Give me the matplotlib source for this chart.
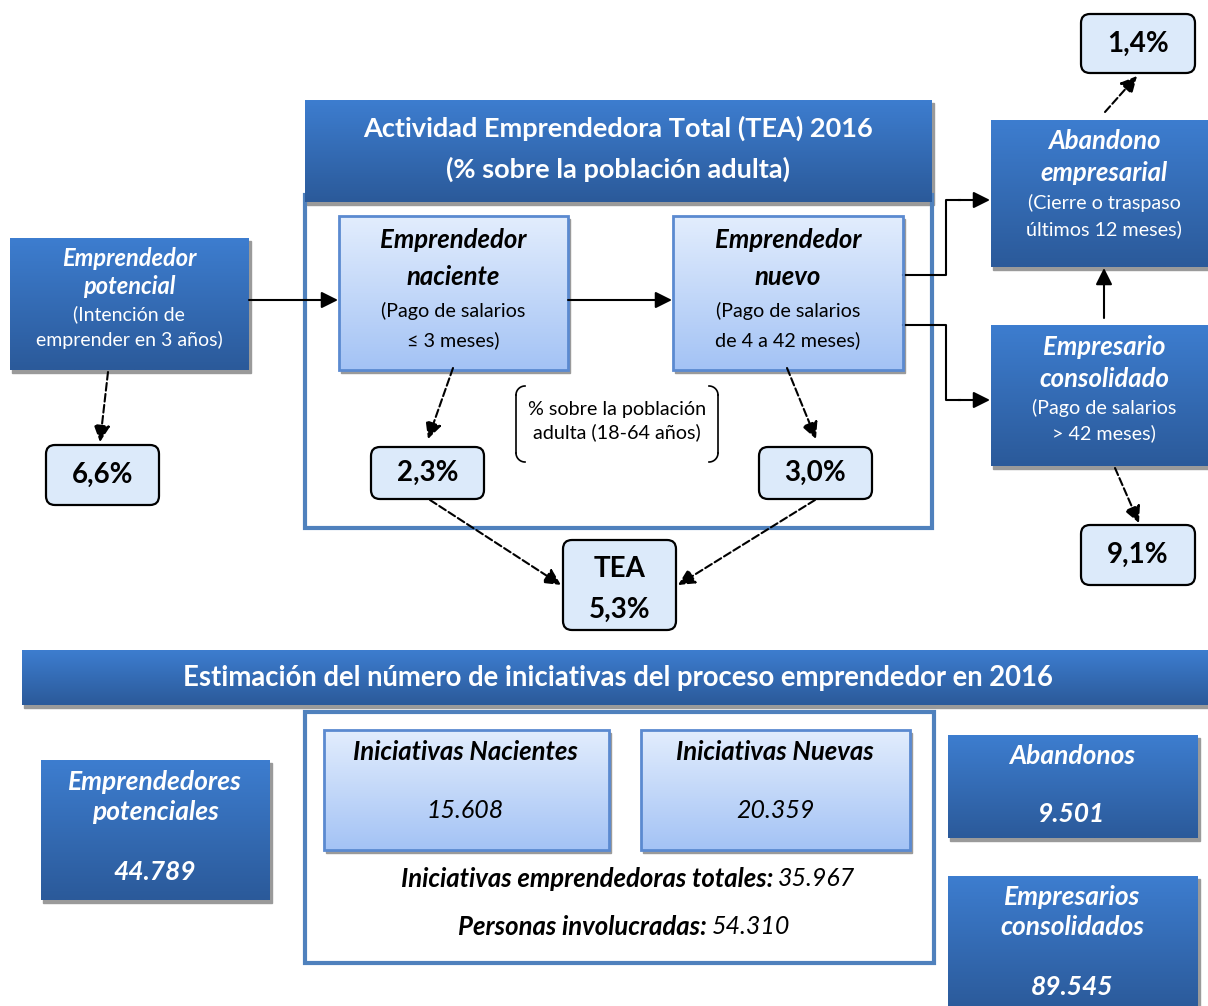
import numpy as np
import matplotlib.pyplot as plt
from matplotlib.patches import Rectangle, FancyBboxPatch
from matplotlib.colors import to_rgb

plt.rcParams['font.family'] = ['Lato', 'DejaVu Sans']

# datos del esquema
pct_labels = ["6,6%", "2,3%", "3,0%", "1,4%", "9,1%"]
tea_value = "5,3%"
header_lines = ["Actividad Emprendedora Total (TEA) 2016", "(% sobre la población adulta)"]
stage_titles = [["Emprendedor", "potencial"], ["Emprendedor", "naciente"], ["Emprendedor", "nuevo"],
                ["Abandono", "empresarial"], ["Empresario", "consolidado"]]
stage_notes = [["(Intención de", "emprender en 3 años)"], ["(Pago de salarios", "≤ 3 meses)"],
               ["(Pago de salarios", "de 4 a 42 meses)"], ["(Cierre o traspaso", "últimos 12 meses)"],
               ["(Pago de salarios", "> 42 meses)"]]
banner = "Estimación del número de iniciativas del proceso emprendedor en 2016"
count_names = ["Emprendedores\npotenciales", "Iniciativas Nacientes", "Iniciativas Nuevas",
               "Abandonos", "Empresarios\nconsolidados"]
count_values = ["44.789", "15.608", "20.359", "9.501", "89.545"]
total_label, total_value = "Iniciativas emprendedoras totales:", "35.967"
people_label, people_value = "Personas involucradas:", "54.310"

DARK = ("#3d7dcf", "#2b5a9a")
LIGHT = ("#e2edfd", "#a4c3f5")
PCT_FILL = "#dceafa"
EDGE = "#4f81bd"

fig = plt.figure(figsize=(12.08, 10.06), dpi=100)
ax = fig.add_axes([0, 0, 1, 1])
ax.set_xlim(0, 1208)
ax.set_ylim(1006, 0)
ax.axis("off")


def grad_box(x0, y0, x1, y1, cols, edge=None, shadow=True):
    if shadow:
        ax.add_patch(Rectangle((x0 + 2, y0 + 3), x1 - x0, y1 - y0, color="#9a9a9a", zorder=1))
    c0 = np.array(to_rgb(cols[0]))
    c1 = np.array(to_rgb(cols[1]))
    t = np.linspace(0, 1, 64)[:, None]
    img = (c0 * (1 - t) + c1 * t)[:, None, :]
    ax.imshow(img, extent=(x0, x1, y1, y0), origin="upper", aspect="auto", zorder=2)
    if edge:
        ax.add_patch(Rectangle((x0, y0), x1 - x0, y1 - y0, fill=False, ec=edge, lw=2, zorder=3))


def pct_box(x0, y0, x1, y1, lines, size=20):
    ax.add_patch(FancyBboxPatch((x0, y0), x1 - x0, y1 - y0, boxstyle="round,pad=0,rounding_size=9",
                                fc=PCT_FILL, ec="black", lw=1.6, zorder=3))
    cx = (x0 + x1) / 2
    if len(lines) == 1:
        ax.text(cx, (y0 + y1) / 2, lines[0], ha="center", va="center", fontsize=size,
                fontweight="bold", zorder=4)
    else:
        for s, y in zip(lines, [y0 + 29, y0 + 70]):
            ax.text(cx, y, s, ha="center", va="center", fontsize=size, fontweight="bold", zorder=4)


def stage_text(cx, ys, titles, notes, color, tsize=18.5, nsize=14.2):
    for s, y in zip(titles, ys[:2]):
        ax.text(cx, y, s, ha="center", va="center", fontsize=tsize, fontweight="bold",
                style="italic", color=color, zorder=4)
    for s, y in zip(notes, ys[2:]):
        ax.text(cx, y, s, ha="center", va="center", fontsize=nsize, color=color, zorder=4)


def arrow(p0, p1, dashed=False):
    ax.annotate("", xy=p1, xytext=p0, zorder=5,
                arrowprops=dict(arrowstyle="-|>,head_length=1.0,head_width=0.5", color="black", lw=1.5,
                                linestyle="--" if dashed else "-", shrinkA=0, shrinkB=0))


# ---- parte superior ----
grad_box(10, 238, 249, 370, DARK)
stage_text(129, [258, 287, 314, 340], stage_titles[0], stage_notes[0], "white", 17, 14)

ax.add_patch(Rectangle((305, 195), 627, 333, fill=False, ec=EDGE, lw=3, zorder=2))
grad_box(305, 100, 932, 202, DARK)
ax.text(618, 128, header_lines[0], ha="center", va="center", fontsize=19.5, fontweight="bold", color="white", zorder=4)
ax.text(618, 169, header_lines[1], ha="center", va="center", fontsize=19.5, fontweight="bold", color="white", zorder=4)

grad_box(339, 216, 568, 370, LIGHT, edge="#5b8ad0")
stage_text(453, [240, 277, 311, 340], stage_titles[1], stage_notes[1], "black")
grad_box(673, 216, 903, 370, LIGHT, edge="#5b8ad0")
stage_text(788, [240, 277, 311, 340], stage_titles[2], stage_notes[2], "black")

grad_box(991, 120, 1208, 267, DARK)
stage_text(1104, [141, 173, 203, 229], stage_titles[3], stage_notes[3], "white")
grad_box(991, 325, 1208, 466, DARK)
stage_text(1104, [347, 379, 408, 433], stage_titles[4], stage_notes[4], "white")

pct_box(46, 445, 159, 505, [pct_labels[0]])
pct_box(371, 447, 484, 499, [pct_labels[1]])
pct_box(759, 447, 872, 499, [pct_labels[2]])
pct_box(1081, 14, 1195, 73, [pct_labels[3]])
pct_box(1081, 525, 1195, 585, [pct_labels[4]])
pct_box(563, 540, 676, 630, ["TEA", tea_value])

# nota entre llaves
ax.text(617, 421, "% sobre la población\nadulta (18-64 años)", ha="center", va="center",
        fontsize=14.2, linespacing=1.3, zorder=4)
for side in (-1, 1):
    xv = 617 + side * 101
    th = np.linspace(0, np.pi / 2, 20)
    r = 9
    # esquina superior e inferior redondeadas
    xt = xv - side * r + side * r * np.cos(th)
    ax.plot(xv - side * r + side * r * np.sin(th), 386 + r - r * np.cos(th), color="black", lw=1.2)
    ax.plot([xv, xv], [386 + r, 462 - r], color="black", lw=1.2)
    ax.plot(xv - side * r + side * r * np.sin(th), 462 - r + r * np.cos(th), color="black", lw=1.2)

# flechas
arrow((249, 300), (338, 300))
arrow((568, 300), (672, 300))
arrow((108, 372), (100, 442), dashed=True)
arrow((453, 368), (428, 439), dashed=True)
arrow((787, 368), (816, 439), dashed=True)
arrow((430, 500), (561, 585), dashed=True)
arrow((815, 500), (678, 585), dashed=True)
arrow((1105, 112), (1137, 76), dashed=True)
arrow((1115, 468), (1139, 523), dashed=True)
arrow((1104, 318), (1104, 268))
ax.plot([903, 946, 946, 960], [275, 275, 200, 200], color="black", lw=1.5)
arrow((958, 200), (990, 200))
ax.plot([903, 946, 946, 960], [325, 325, 400, 400], color="black", lw=1.5)
arrow((958, 400), (990, 400))

# ---- parte inferior ----
grad_box(22, 650, 1208, 705, DARK)
ax.text(618, 678, banner, ha="center", va="center", fontsize=19.8, fontweight="bold", color="white", zorder=4)

bi = dict(ha="center", va="center", fontweight="bold", style="italic", zorder=4)
grad_box(41, 760, 270, 900, DARK)
ax.text(155, 797, count_names[0], fontsize=19, color="white", linespacing=1.3, **bi)
ax.text(155, 872, count_values[0], fontsize=19, color="white", **bi)

ax.add_patch(Rectangle((305, 712), 629, 251, fill=False, ec=EDGE, lw=3, zorder=2))
grad_box(324, 730, 609, 850, LIGHT, edge="#5b8ad0")
ax.text(465, 752, count_names[1], fontsize=18.5, **bi)
ax.text(465, 811, count_values[1], ha="center", va="center", fontsize=18, style="italic", zorder=4)
grad_box(641, 730, 910, 850, LIGHT, edge="#5b8ad0")
ax.text(775, 752, count_names[2], fontsize=18.5, **bi)
ax.text(775, 810, count_values[2], ha="center", va="center", fontsize=18, style="italic", zorder=4)

ax.text(773, 879, total_label, ha="right", va="center", fontsize=18.5, fontweight="bold", style="italic", zorder=4)
ax.text(778, 879, total_value, ha="left", va="center", fontsize=18, style="italic", zorder=4)
ax.text(707, 927, people_label, ha="right", va="center", fontsize=18.5, fontweight="bold", style="italic", zorder=4)
ax.text(712, 927, people_value, ha="left", va="center", fontsize=18, style="italic", zorder=4)

grad_box(948, 735, 1198, 838, DARK)
ax.text(1072, 756, count_names[3], fontsize=19, color="white", **bi)
ax.text(1072, 814, count_values[3], fontsize=19, color="white", **bi)
grad_box(948, 876, 1198, 1010, DARK)
ax.text(1072, 912, count_names[4], fontsize=19, color="white", linespacing=1.3, **bi)
ax.text(1072, 987, count_values[4], fontsize=19, color="white", **bi)

fig.savefig("out.png", dpi=100)
